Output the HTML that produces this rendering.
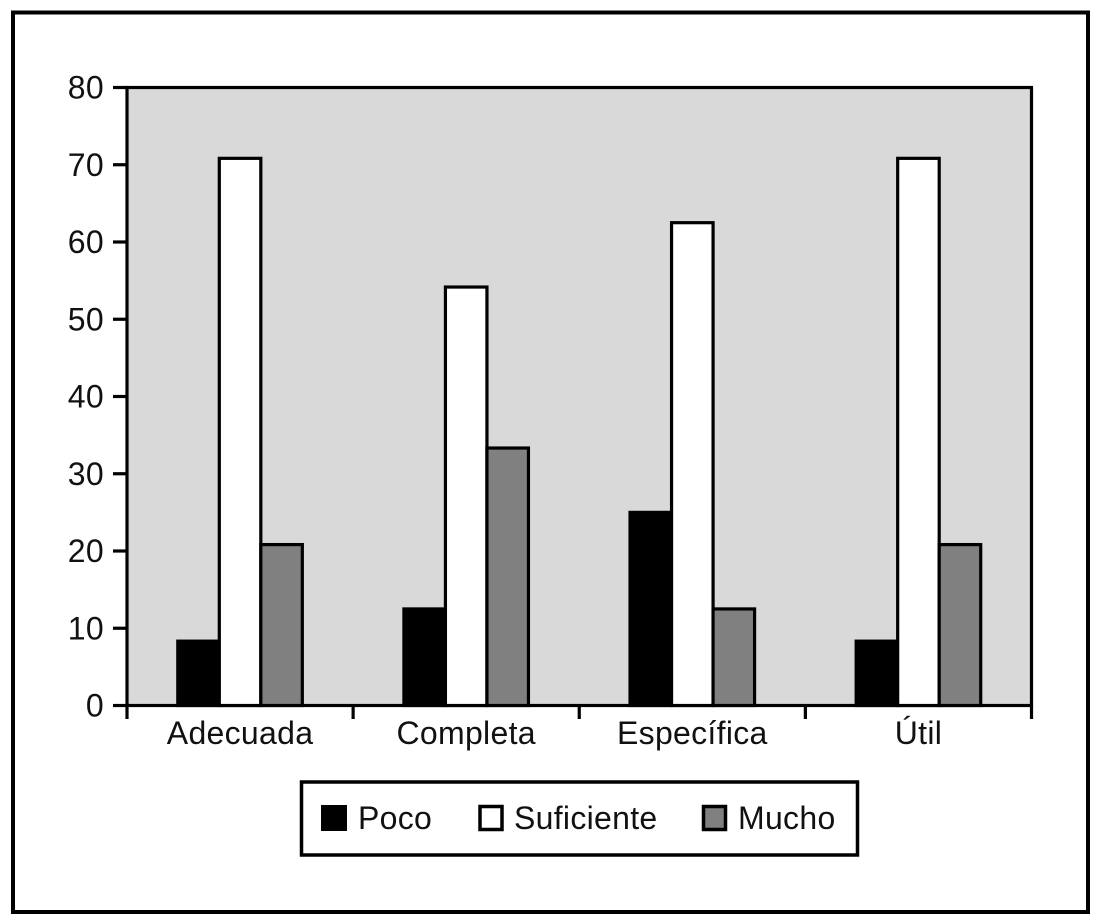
<!DOCTYPE html>
<html lang="es">
<head>
<meta charset="utf-8">
<title>Gráfico de barras</title>
<style>
html,body{margin:0;padding:0;background:#fff;width:1099px;height:923px;overflow:hidden}
svg{display:block}
text{font-family:"Liberation Sans",sans-serif;font-size:32px;fill:#111;letter-spacing:.3px}
</style>
</head>
<body>
<svg id="chart" width="1099" height="923" viewBox="0 0 1099 923" xmlns="http://www.w3.org/2000/svg">
<rect x="13" y="12.5" width="1075" height="899.5" fill="#fff" stroke="#000" stroke-width="4"/>
<rect x="127" y="87.5" width="904.5" height="618" fill="#d9d9d9" stroke="#000" stroke-width="3.2"/>
<g id="bars"></g>
<g id="axes"></g>
<g>
<rect x="301.5" y="782" width="556" height="73" fill="#fff" stroke="#000" stroke-width="3.5"/>
<rect x="321" y="805" width="26" height="26" fill="#000"/>
<text x="358" y="829">Poco</text>
<rect x="480" y="806.5" width="22" height="23" fill="#fff" stroke="#000" stroke-width="3.5"/>
<text x="514" y="829">Suficiente</text>
<rect x="703.5" y="806.5" width="22" height="23" fill="#808080" stroke="#000" stroke-width="3.5"/>
<text x="738" y="829">Mucho</text>
</g>
</svg>
<script>
const categories = ["Adecuada", "Completa", "Específica", "Útil"];
const poco = [8.33, 12.5, 25, 8.33];
const suficiente = [70.83, 54.17, 62.5, 70.83];
const mucho = [20.83, 33.33, 12.5, 20.83];
const yTicks = [0, 10, 20, 30, 40, 50, 60, 70, 80];

const NS = "http://www.w3.org/2000/svg";
const plotLeft = 127, plotRight = 1031.5, plotTop = 87.5, plotBottom = 705.5, yMax = 80;
const bandW = (plotRight - plotLeft) / categories.length;
const barW = bandW * 0.1836;
const xBand = i => plotLeft + bandW * i;
const yScale = v => plotBottom - (v / yMax) * (plotBottom - plotTop);
const barsG = document.getElementById("bars");
const axesG = document.getElementById("axes");

function line(x1, y1, x2, y2) {
  const el = document.createElementNS(NS, "line");
  el.setAttribute("x1", x1);
  el.setAttribute("y1", y1);
  el.setAttribute("x2", x2);
  el.setAttribute("y2", y2);
  el.setAttribute("stroke", "#000");
  el.setAttribute("stroke-width", "3.2");
  return el;
}

function drawSeries(values, fill, seriesName, offset) {
  values.forEach((v, i) => {
    const x = xBand(i) + bandW / 2 + (offset - 1.5) * barW;
    const y = yScale(v);
    const el = document.createElementNS(NS, "rect");
    el.setAttribute("x", x);
    el.setAttribute("y", y);
    el.setAttribute("width", barW);
    el.setAttribute("height", plotBottom - y);
    el.setAttribute("fill", fill);
    el.setAttribute("stroke", "#000");
    el.setAttribute("stroke-width", "3.2");
    
    
    barsG.appendChild(el);
  });
}
drawSeries(poco, "#000", "poco", 0);
drawSeries(suficiente, "#fff", "suficiente", 1);
drawSeries(mucho, "#808080", "mucho", 2);

yTicks.forEach(t => {
  const y = yScale(t);
  const tick = line(113, y, plotLeft, y);
  
  
  axesG.appendChild(tick);
  const label = document.createElementNS(NS, "text");
  label.setAttribute("x", 104);
  label.setAttribute("y", y + 11);
  label.setAttribute("text-anchor", "end");
  
  
  label.textContent = t;
  axesG.appendChild(label);
});

for (let i = 0; i <= categories.length; i++) {
  const tick = line(xBand(i), plotBottom, xBand(i), 719);
  
  
  axesG.appendChild(tick);
}

categories.forEach((c, i) => {
  const label = document.createElementNS(NS, "text");
  label.setAttribute("x", xBand(i) + bandW / 2);
  label.setAttribute("y", 744);
  label.setAttribute("text-anchor", "middle");
  
  
  label.textContent = c;
  axesG.appendChild(label);
});
</script>
</body>
</html>
